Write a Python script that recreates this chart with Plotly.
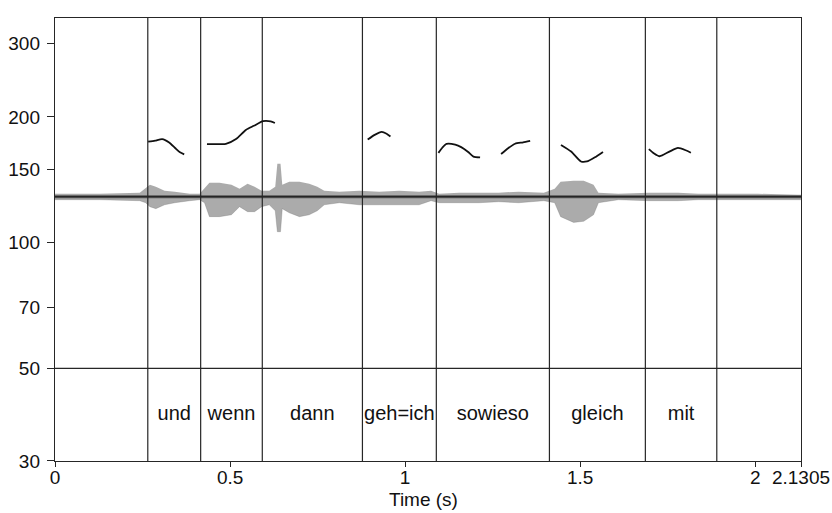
import plotly.graph_objects as go

# ---- data ----
x_ticks = [0, 0.5, 1, 1.5, 2, 2.1305]
x_tick_text = ["0", "0.5", "1", "1.5", "2", "2.1305"]
y_ticks = [30, 50, 70, 100, 150, 200, 300]
t_end = 2.1305
f_min, f_max = 30, 345
tier_floor = 50

boundaries = [0.265, 0.416, 0.592, 0.878, 1.089, 1.412, 1.686, 1.890]
words = ["und", "wenn", "dann", "geh=ich", "sowieso", "gleich", "mit"]
word_label_hz = 38.7

pitch_t_und = [0.266, 0.286, 0.306, 0.326, 0.343, 0.357, 0.369]
pitch_hz_und = [174.4, 175.4, 177.0, 173.7, 168.5, 164.5, 162.7]
pitch_t_wenn = [0.434, 0.463, 0.488, 0.517, 0.545, 0.568, 0.594, 0.616, 0.628]
pitch_hz_wenn = [172.2, 172.2, 172.3, 177.0, 186.1, 190.4, 195.3, 195.1, 193.4]
pitch_t_geh = [0.893, 0.913, 0.933, 0.947, 0.958]
pitch_hz_geh = [176.5, 181.1, 184.1, 182.3, 179.5]
pitch_t_so1 = [1.095, 1.106, 1.118, 1.143, 1.160, 1.180, 1.195, 1.214]
pitch_hz_so1 = [164.0, 168.7, 172.3, 171.6, 169.3, 164.8, 160.7, 160.0]
pitch_t_so2 = [1.274, 1.294, 1.314, 1.337, 1.357]
pitch_hz_so2 = [163.0, 168.3, 172.5, 173.8, 175.2]
pitch_t_gleich = [1.445, 1.474, 1.502, 1.519, 1.542, 1.565]
pitch_hz_gleich = [171.3, 165.2, 156.4, 156.4, 160.1, 164.9]
pitch_t_mit = [1.696, 1.710, 1.727, 1.756, 1.779, 1.801, 1.816]
pitch_hz_mit = [167.5, 163.7, 161.0, 165.4, 168.5, 166.4, 164.1]

wave_baseline_hz = 128.8
env_t = [0.000, 0.128, 0.242, 0.259, 0.271, 0.288, 0.313, 0.342, 0.385, 0.413,
         0.427, 0.441, 0.470, 0.504, 0.527, 0.550, 0.570, 0.590, 0.612, 0.629,
         0.635, 0.644, 0.649, 0.669, 0.698, 0.726, 0.749, 0.769, 0.812, 0.869,
         0.926, 0.983, 1.040, 1.074, 1.097, 1.154, 1.211, 1.267, 1.324, 1.396,
         1.427, 1.444, 1.481, 1.510, 1.538, 1.552, 1.609, 1.695, 1.780, 1.837,
         1.894, 2.008, 2.122, 2.1305]
env_upper = [130.9, 130.9, 131.7, 135.3, 137.6, 136.1, 133.1, 132.4, 130.9, 130.9,
             134.6, 139.1, 139.1, 137.6, 134.6, 138.4, 136.1, 133.1, 133.1, 136.1,
             154.5, 154.5, 137.6, 139.9, 139.9, 138.4, 136.1, 133.1, 132.4, 133.1,
             132.4, 133.1, 132.4, 133.1, 130.9, 131.7, 131.7, 131.7, 132.4, 131.7,
             134.6, 139.9, 140.7, 140.7, 137.6, 131.7, 130.9, 131.7, 131.7, 130.9,
             130.9, 130.9, 130.2, 130.2]
env_lower = [126.7, 126.7, 126.0, 124.6, 121.9, 120.6, 123.2, 124.6, 126.0, 126.7,
             124.6, 115.4, 115.4, 116.6, 121.9, 118.6, 118.6, 121.9, 123.2, 119.2,
             106.2, 106.2, 120.6, 117.9, 115.4, 116.6, 119.2, 123.2, 124.6, 123.2,
             123.2, 123.2, 123.2, 126.0, 124.6, 124.6, 124.6, 125.3, 124.6, 126.0,
             124.6, 115.4, 111.8, 112.5, 116.6, 124.6, 126.7, 126.0, 126.0, 126.7,
             126.7, 126.7, 126.7, 126.7]

# ---- figure ----
FONT = "Liberation Sans, Arial, sans-serif"
LINE = "#262626"
fig = go.Figure()

# waveform envelope
fig.add_trace(go.Scatter(x=env_t, y=env_upper, mode="lines",
                         line=dict(width=0, color="rgba(0,0,0,0)"),
                         hoverinfo="skip", showlegend=False))
fig.add_trace(go.Scatter(x=env_t, y=env_lower, mode="lines",
                         line=dict(width=0.6, color="rgba(110,110,110,0.5)"),
                         fill="tonexty", fillcolor="rgba(120,120,120,0.62)",
                         hoverinfo="skip", showlegend=False))
fig.add_trace(go.Scatter(x=[0, t_end], y=[wave_baseline_hz, wave_baseline_hz],
                         mode="lines", line=dict(width=3, color="#555555"),
                         hoverinfo="skip", showlegend=False))
fig.add_trace(go.Scatter(x=[0, t_end], y=[wave_baseline_hz, wave_baseline_hz],
                         mode="lines", line=dict(width=1, color="#1a1a1a"),
                         hoverinfo="skip", showlegend=False))

# tier separator and boundaries
fig.add_trace(go.Scatter(x=[0, t_end], y=[tier_floor, tier_floor], mode="lines",
                         line=dict(width=1.2, color=LINE), showlegend=False))
bx, by = [], []
for b in boundaries:
    bx += [b, b, None]
    by += [f_min, f_max, None]
fig.add_trace(go.Scatter(x=bx, y=by, mode="lines",
                         line=dict(width=1.2, color=LINE), showlegend=False))

# pitch contours
for ts, hz in [(pitch_t_und, pitch_hz_und), (pitch_t_wenn, pitch_hz_wenn),
               (pitch_t_geh, pitch_hz_geh), (pitch_t_so1, pitch_hz_so1),
               (pitch_t_so2, pitch_hz_so2), (pitch_t_gleich, pitch_hz_gleich),
               (pitch_t_mit, pitch_hz_mit)]:
    fig.add_trace(go.Scatter(x=ts, y=hz, mode="lines",
                             line=dict(width=1.8, color="#111111", shape="spline",
                                       smoothing=0.6),
                             showlegend=False))

# word labels
centers = [(boundaries[i] + boundaries[i + 1]) / 2 for i in range(len(words))]
fig.add_trace(go.Scatter(x=centers, y=[word_label_hz] * len(words), mode="text",
                         text=words, textposition="middle center",
                         textfont=dict(family=FONT, size=20, color="#111"),
                         showlegend=False))

fig.update_layout(
    width=832, height=513, autosize=False,
    margin=dict(l=55, r=31, t=18, b=52),
    paper_bgcolor="white", plot_bgcolor="white",
    font=dict(family=FONT, size=19, color="#111"),
    showlegend=False,
    annotations=[dict(text="Time (s)", xref="paper", yref="paper",
                      x=0.4935, y=-0.086, xanchor="center", yanchor="middle",
                      showarrow=False, font=dict(family=FONT, size=19, color="#111"))],
)
fig.update_xaxes(range=[0, t_end], tickvals=x_ticks, ticktext=x_tick_text,
                 ticks="outside", ticklen=5, tickwidth=1.3, tickcolor=LINE,
                 showline=True, linecolor=LINE, linewidth=1.4, mirror=True,
                 showgrid=False, zeroline=False, tickfont=dict(size=19),
                 ticklabelstandoff=-6, automargin=False)
fig.update_yaxes(type="log", range=[1.4771, 2.5378], tickvals=y_ticks,
                 ticktext=[str(v) for v in y_ticks],
                 ticks="outside", ticklen=7, tickwidth=1.3, tickcolor=LINE,
                 showline=True, linecolor=LINE, linewidth=1.4, mirror=True,
                 showgrid=False, zeroline=False, tickfont=dict(size=19),
                 ticklabelstandoff=3, automargin=False)

fig.write_html("out.html",
               config={"responsive": False, "displayModeBar": False},
               post_script="document.body.style.margin='0';"
                           "document.body.style.overflow='hidden';")
